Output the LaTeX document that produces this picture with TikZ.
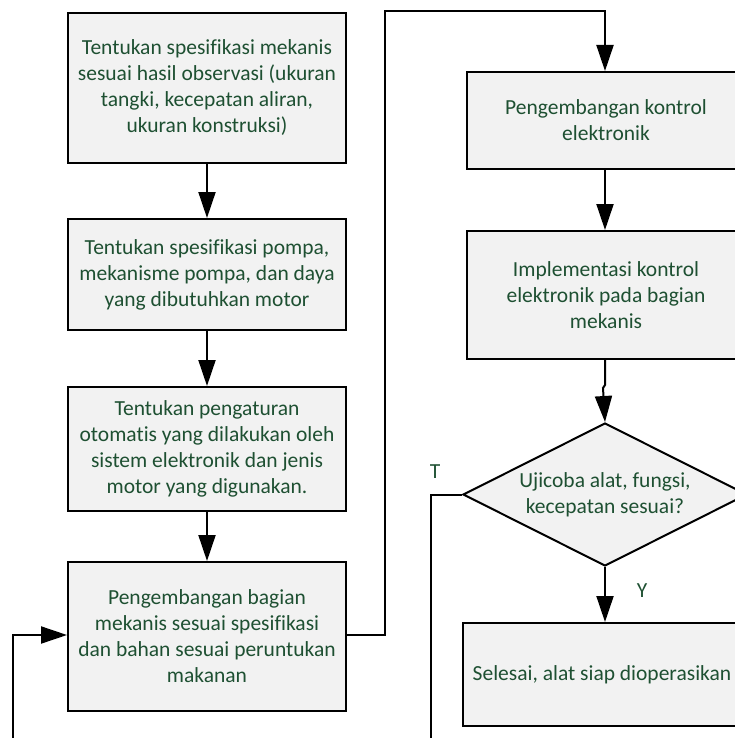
\documentclass[tikz,border=0pt]{standalone}
\usepackage{fontspec}
\setmainfont{Carlito}[Ligatures={NoCommon,NoRequired,NoContextual}]
\usetikzlibrary{arrows.meta,shapes.geometric}
\definecolor{txtgreen}{RGB}{30,80,50}
\definecolor{boxfill}{RGB}{242,242,242}
\tikzset{
  x=1pt,y=-1pt,
  procbox/.style={draw=black,line width=2pt,fill=boxfill,text=txtgreen,align=center,
    font=\fontsize{21.5}{26}\selectfont,inner sep=0pt,anchor=north west},
  conn/.style={line width=2pt,draw=black},
  arr/.style={conn,-{Triangle[length=26pt,width=17pt]}},
  lbl/.style={text=txtgreen,font=\fontsize{21.5}{26}\selectfont,inner sep=0pt}
}
\begin{document}
\begin{tikzpicture}
\useasboundingbox (0,0) rectangle (735,738);
\clip (0,0) rectangle (735,738);
% left column boxes
\node[procbox,minimum width=278pt,minimum height=150pt] (b1) at (67,12)
  {Tentukan spesifikasi mekanis\\sesuai hasil observasi (ukuran\\tangki, kecepatan aliran,\\ukuran konstruksi)};
\node[procbox,minimum width=278pt,minimum height=111pt] (b2) at (67,218)
  {Tentukan spesifikasi pompa,\\mekanisme pompa, dan daya\\yang dibutuhkan motor};
\node[procbox,minimum width=278pt,minimum height=124pt] (b3) at (67,386)
  {Tentukan pengaturan\\otomatis yang dilakukan oleh\\sistem elektronik dan jenis\\motor yang digunakan.};
\node[procbox,minimum width=278pt,minimum height=149pt] (b4) at (67,561)
  {Pengembangan bagian\\mekanis sesuai spesifikasi\\dan bahan sesuai peruntukan\\makanan};
% right column
\node[procbox,minimum width=278pt,minimum height=97pt] (b5) at (466,71)
  {Pengembangan kontrol\\elektronik};
\node[procbox,minimum width=278pt,minimum height=128pt] (b6) at (466,230)
  {Implementasi kontrol\\elektronik pada bagian\\mekanis};
\node[diamond,draw=black,line width=2pt,fill=boxfill,text=txtgreen,align=center,
  font=\fontsize{21.5}{26}\selectfont,inner sep=0pt,minimum width=284pt,minimum height=143pt,
  aspect=2] (d1) at (605,494.5)
  {Ujicoba alat, fungsi,\\kecepatan sesuai?};
\node[procbox,minimum width=278pt,minimum height=103pt] (b7) at (462,622)
  {Selesai, alat siap dioperasikan};
% coordinates
\coordinate (c1) at (385,635);
\coordinate (c2) at (385,11);
\coordinate (c3) at (605,11);
\coordinate (j1) at (605,385);
\coordinate (j2) at (603,388);
\coordinate (t1) at (431,494.5);
\coordinate (t2) at (431,760);
\coordinate (l1) at (13,760);
\coordinate (l2) at (13,635);
% connectors
\draw[arr] (b1.south -| 207,0) -- (b2.north -| 207,0);
\draw[arr] (b2.south -| 207,0) -- (b3.north -| 207,0);
\draw[arr] (b3.south -| 207,0) -- (b4.north -| 207,0);
\draw[arr] (b4.east |- c1) -- (c1) -- (c2) -- (c3) -- (b5.north -| c3);
\draw[arr] (b5.south -| c3) -- (b6.north -| c3);
\draw[arr] (b6.south -| c3) -- (j1) -- (j2) -- (d1.north);
\draw[arr] (d1.south) -- (b7.north -| d1.south);
\draw[conn] (d1.west) -- (t1) -- (t2);
\draw[arr] (l1) -- (l2) -- (b4.west |- l2);
% labels
\node[lbl] (lt) at (435,472) {T};
\node[lbl] (ly) at (642,591) {Y};
\end{tikzpicture}
\end{document}
